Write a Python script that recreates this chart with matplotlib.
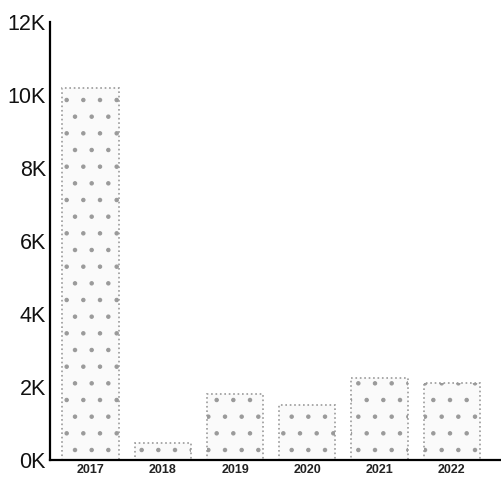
import matplotlib
matplotlib.use("Agg")
from matplotlib import pyplot as plt

# Данные
years = ['2017', '2018', '2019', '2020', '2021', '2022']
values = [10200, 470, 1820, 1500, 2250, 2100]
yticks = [0, 2000, 4000, 6000, 8000, 10000, 12000]

plt.rcParams['font.family'] = ['Liberation Sans', 'DejaVu Sans']
plt.rcParams['hatch.color'] = '#d2d2d2'
plt.rcParams['hatch.linewidth'] = 0.8

fig = plt.figure(figsize=(5.01, 4.79), dpi=100)
ax = fig.add_axes([50 / 501, 19 / 479, 451 / 501, 438 / 479])

x = list(range(len(years)))
ax.bar(x, values, width=0.78, color='#fafafa', edgecolor='#9a9a9a',
       linestyle=':', linewidth=1.2, hatch='.')

ax.set_xlim(-0.56, 5.68)
ax.set_ylim(0, 12000)
ax.set_xticks(x)
ax.set_xticklabels(years, fontsize=9, fontweight='bold', color='#222222')
ax.set_yticks(yticks)
ax.set_yticklabels(['%dK' % (v // 1000) for v in yticks], fontsize=15.5, color='#111111')

for s in ['top', 'right']:
    ax.spines[s].set_visible(False)
ax.spines['left'].set_linewidth(1.6)
ax.spines['bottom'].set_linewidth(1.6)
ax.tick_params(axis='x', length=0, pad=3)
ax.tick_params(axis='y', length=0, pad=3)

fig.savefig('out.png', dpi=100)
